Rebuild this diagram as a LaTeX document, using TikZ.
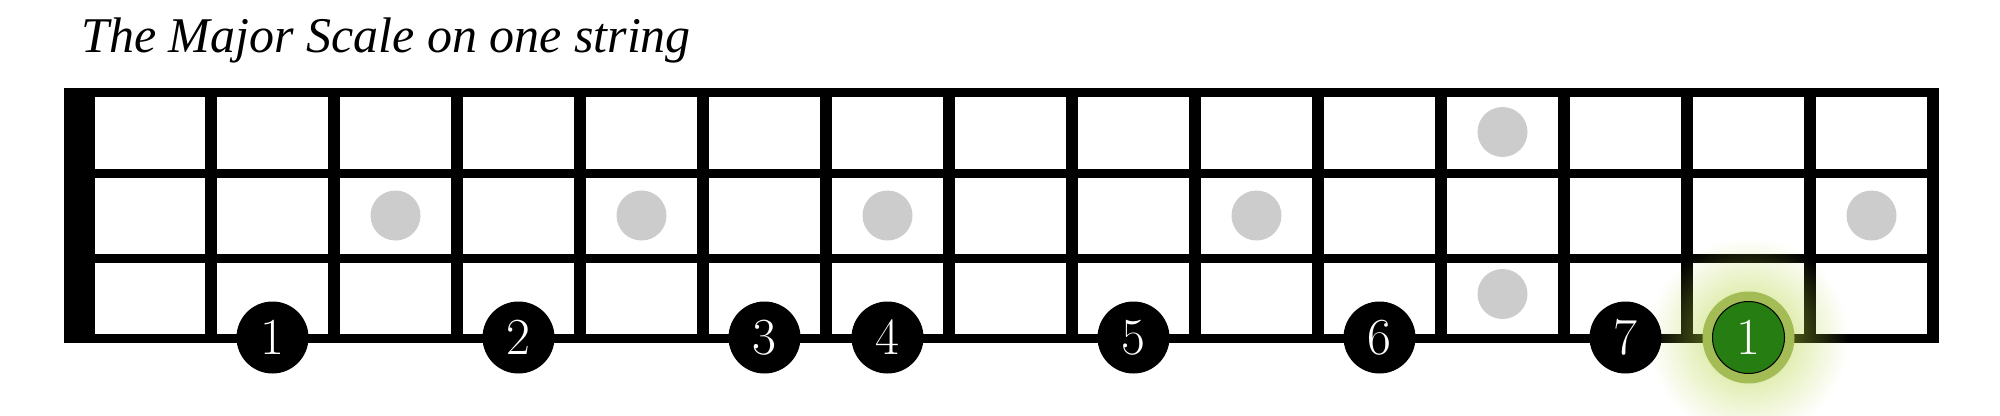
\documentclass[tikz,border=0pt]{standalone}
\usepackage{fontspec}
\newfontfamily\titlefont{Liberation Serif}
\usetikzlibrary{fadings}
\definecolor{inlaygray}{HTML}{CCCCCC}
\definecolor{rootgreen}{HTML}{267D12}
\definecolor{ringgreen}{HTML}{A3BC55}
\definecolor{glowgreen}{HTML}{B4D23C}
\tikzfading[name=glowfade, inner color=transparent!30, outer color=transparent!100]
\begin{document}
\begin{tikzpicture}[x=1pt,y=-1pt,
  fretline/.style={line width=12pt},
  stringline/.style={line width=9pt},
  inlay/.style={circle,fill=inlaygray,minimum size=50pt,inner sep=0pt},
  note/.style={circle,fill=black,text=white,minimum size=72pt,inner sep=0pt,font=\fontsize{52}{52}\selectfont}]
\useasboundingbox (0,0) rectangle (2000,415);
\node[anchor=base west,inner sep=0pt,font=\titlefont\itshape\fontsize{50}{50}\selectfont] (title) at (81,52) {The Major Scale on one string};
\fill (64,88) rectangle (95,343);
\foreach \y in {92.5,173.5,258,338.5}
  \draw[stringline] (64,\y) -- (1939,\y);
\foreach \k in {1,...,15}
  \draw[fretline] ({211+123*(\k-1)},88) -- ++(0,255);
\foreach \c/\y in {3/215.5,5/215.5,7/215.5,10/215.5,12/132,12/294,15/215.5}
  \node[inlay] (inlay\c-\y) at ({149.5+123*(\c-1)},\y) {};
\fill[glowgreen,path fading=glowfade] (1748.5,337.5) circle (100);
\foreach \c/\l [count=\i] in {2/1,4/2,6/3,7/4,9/5,11/6,13/7}
  \node[note] (n\i) at ({149.5+123*(\c-1)},337.5) {\l};
\node[circle,fill=ringgreen,minimum size=92pt,inner sep=0pt] (ring) at (1748.5,337.5) {};
\node[note,fill=rootgreen,draw=black,line width=1pt] (root) at (ring) {1};
\end{tikzpicture}
\end{document}
